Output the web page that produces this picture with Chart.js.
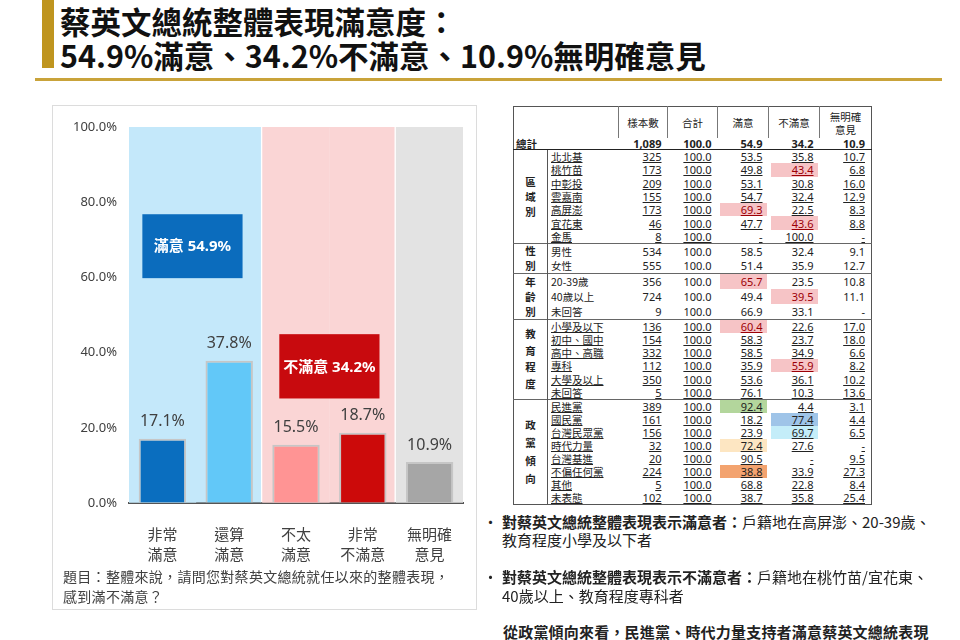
<!DOCTYPE html>
<html><head><meta charset="utf-8">
<script src="https://cdn.jsdelivr.net/npm/chart.js@4"></script>
<style>
html,body{margin:0;padding:0;background:#fff;}
body{width:960px;height:640px;position:relative;overflow:hidden;font-family:"Noto Sans","Noto Sans CJK TC",sans-serif;color:#222;}
.goldbar{position:absolute;left:42px;top:0;width:12px;height:68px;background:#bf951f;}
.title{position:absolute;left:60px;top:5px;font-family:"Noto Sans CJK TC",sans-serif;font-weight:700;font-size:30.5px;line-height:33.5px;color:#111;white-space:nowrap;}
.rule{position:absolute;left:35px;top:78px;width:907px;height:3px;background:#c9a33a;}
.panel{position:absolute;left:52px;top:105px;width:425px;height:505px;box-sizing:border-box;border:1px solid #dcdcdc;}
#chartwrap{position:absolute;left:52px;top:105px;width:425px;height:465px;}
.caption{position:absolute;left:63px;top:567px;font-family:"Noto Sans CJK TC",sans-serif;font-size:14px;line-height:19.5px;letter-spacing:0.3px;color:#404040;white-space:nowrap;}
.bullet{position:absolute;left:502px;font-family:"Noto Sans CJK TC",sans-serif;font-size:15px;line-height:18.5px;color:#222;white-space:nowrap;}
.bullet::before{content:"•";position:absolute;left:-19px;top:0;}
.bullet b{font-weight:700;}
.last{position:absolute;left:503px;top:623px;font-family:"Noto Sans CJK TC",sans-serif;font-size:15px;line-height:18.5px;font-weight:700;color:#222;white-space:nowrap;letter-spacing:0.2px;}
#tbl{position:absolute;left:513px;top:106px;border-collapse:collapse;table-layout:fixed;width:358px;font-family:"Noto Sans","Noto Sans CJK TC",sans-serif;font-size:11px;color:#222;border:1px solid #555;}
#tbl td,#tbl th{padding:0;line-height:11px;white-space:nowrap;overflow:hidden;}
#tbl th{font-weight:400;font-family:"Noto Sans CJK TC",sans-serif;font-size:10.5px;line-height:13px;height:31px;border-left:1px solid #777;text-align:center;vertical-align:middle;}
#tbl th.blank{border-left:none;}
#tbl td.num{text-align:right;padding-right:6px;}
#tbl td.lab{padding-left:3px;font-family:"Noto Sans CJK TC",sans-serif;font-size:10.5px;border-left:1px solid #555;}
#tbl td.grp{text-align:center;font-weight:700;font-family:"Noto Sans CJK TC",sans-serif;font-size:10.5px;vertical-align:middle;}
#tbl tr.total td{font-weight:700;border-bottom:1.5px solid #222;height:11px;}
#tbl tr.total td.tl{font-family:"Noto Sans CJK TC",sans-serif;font-size:10.5px;padding-left:2px;}
#tbl tr.sec td{border-top:1px solid #666;}
#tbl u{text-decoration:underline;text-underline-offset:1px;}
</style>
</head>
<body>
<div class="goldbar"></div>
<div class="title">蔡英文總統整體表現滿意度：<br>54.9%滿意、34.2%不滿意、10.9%無明確意見</div>
<div class="rule"></div>
<div class="panel"></div>
<div id="chartwrap"><canvas id="c" width="425" height="465"></canvas></div>
<div class="caption">題目：整體來說，請問您對蔡英文總統就任以來的整體表現，<br>感到滿不滿意？</div>
<table id="tbl"></table>
<div class="bullet" style="top:512.5px;"><b>對蔡英文總統整體表現表示滿意者：</b>戶籍地在高屏澎、20-39歲、<br>教育程度小學及以下者</div>
<div class="bullet" style="top:568px;"><b>對蔡英文總統整體表現表示不滿意者：</b>戶籍地在桃竹苗/宜花東、<br>40歲以上、教育程度專科者</div>
<div class="last">從政黨傾向來看，民進黨、時代力量支持者滿意蔡英文總統表現</div>

<script>
// ---------- chart data ----------
const categories = [['非常','滿意'],['還算','滿意'],['不太','滿意'],['非常','不滿意'],['無明確','意見']];
const values = [17.1, 37.8, 15.5, 18.7, 10.9];
const scaleMax = 100;
const tickStep = 20;
const summaryNames = ['滿意', '不滿意'];
const summaryValues = [54.9, 34.2];

// ---------- table data ----------
const tableHeaders = ['樣本數', '合計', '滿意', '不滿意', ['無明確', '意見']];
const overallLabel = '總計';
const overallRow = [1089, 100.0, 54.9, 34.2, 10.9];
const groupNames = ['區域別', '性別', '年齡別', '教育程度', '政黨傾向'];
const groupSizes = [7, 2, 3, 6, 8];
const rowLabels = ['北北基','桃竹苗','中彰投','雲嘉南','高屏澎','宜花東','金馬',
  '男性','女性',
  '20-39歲','40歲以上','未回答',
  '小學及以下','初中、國中','高中、高職','專科','大學及以上','未回答',
  '民進黨','國民黨','台灣民眾黨','時代力量','台灣基進','不偏任何黨','其他','未表態'];
const sampleSizes = [325,173,209,155,173,46,8, 534,555, 356,724,9, 136,154,332,112,350,5, 389,161,156,32,20,224,5,102];
const totalPct = [100,100,100,100,100,100,100, 100,100, 100,100,100, 100,100,100,100,100,100, 100,100,100,100,100,100,100,100];
const satisfiedPct = [53.5,49.8,53.1,54.7,69.3,47.7,null, 58.5,51.4, 65.7,49.4,66.9, 60.4,58.3,58.5,35.9,53.6,76.1, 92.4,18.2,23.9,72.4,90.5,38.8,68.8,38.7];
const dissatisfiedPct = [35.8,43.4,30.8,32.4,22.5,43.6,100.0, 32.4,35.9, 23.5,39.5,33.1, 22.6,23.7,34.9,55.9,36.1,10.3, 4.4,77.4,69.7,27.6,null,33.9,22.8,35.8];
const noOpinionPct = [10.7,6.8,16.0,12.9,8.3,8.8,null, 9.1,12.7, 10.8,11.1,null, 17.0,18.0,6.6,8.2,10.2,13.6, 3.1,4.4,6.5,null,9.5,27.3,8.4,25.4];

// ---------- styles ----------
const barColors = ['#0a6ebf', '#62c8f8', '#ff9494', '#cc0a0a', '#a6a6a6'];
const bandColors = ['#c4e8fa', '#c4e8fa', '#fad5d5', '#fad5d5', '#e3e3e3'];
const sectionRowHeights = [13.3, 14.5, 14.8, 13.1, 13.0];
const groupLineHeights = [15, 14.5, 15, 16.5, 18];
const underlineGroups = [true, false, false, true, true];
const pink = {bg:'#f6c4c6', fg:'#9c0006'};
const highlights = [
  [1,3,pink],[4,2,pink],[5,3,pink],[9,2,pink],[10,3,pink],[12,2,pink],[15,3,pink],
  [18,2,{bg:'#b3d69c',fg:'#222'}],[19,3,{bg:'#9fc4e8',fg:'#222'}],[20,3,{bg:'#c4edf9',fg:'#222'}],
  [21,2,{bg:'#fde6c2',fg:'#222'}],[23,2,{bg:'#f3a36f',fg:'#222'}]
];

// ---------- build table ----------
(function buildTable(){
  const fmtPct = v => v === null ? '-' : v.toFixed(1);
  const fmtN = v => v.toLocaleString('en-US');
  let h = '<colgroup><col style="width:34px"><col style="width:71px"><col style="width:49px"><col style="width:50px"><col style="width:51px"><col style="width:51px"><col style="width:52px"></colgroup>';
  h += '<tr><th class="blank" colspan="2"></th>' + tableHeaders.map(t => '<th>' + (Array.isArray(t) ? t.join('<br>') : t) + '</th>').join('') + '</tr>';
  h += '<tr class="total"><td class="tl" colspan="2">' + overallLabel + '</td>' +
       overallRow.map((v,i) => '<td class="num">' + (i === 0 ? fmtN(v) : fmtPct(v)) + '</td>').join('') + '</tr>';
  let r = 0;
  groupSizes.forEach((size, g) => {
    const ul = underlineGroups[g];
    const wrap = s => ul ? '<u>' + s + '</u>' : s;
    for (let k = 0; k < size; k++, r++) {
      const cls = (g > 0 && k === 0) ? ' class="sec"' : '';
      let row = '<tr' + cls + '>';
      if (k === 0) {
        row += '<td class="grp" rowspan="' + size + '" style="line-height:' + groupLineHeights[g] + 'px">' + groupNames[g].split('').join('<br>') + '</td>';
      }
      row += '<td class="lab" style="height:' + sectionRowHeights[g] + 'px">' + wrap(rowLabels[r]) + '</td>';
      const cells = [fmtN(sampleSizes[r]), fmtPct(totalPct[r]), fmtPct(satisfiedPct[r]), fmtPct(dissatisfiedPct[r]), fmtPct(noOpinionPct[r])];
      cells.forEach((c, ci) => {
        const hl = highlights.find(x => x[0] === r && x[1] === ci);
        const st = hl ? ' style="background:' + hl[2].bg + ';color:' + hl[2].fg + ';box-shadow:inset 2px 0 #fff, inset -2px 0 #fff"' : '';
        row += '<td class="num"' + st + '>' + wrap(c) + '</td>';
      });
      row += '</tr>';
      h += row;
    }
  });
  document.getElementById('tbl').innerHTML = h;
})();

// ---------- chart ----------
const summaryBoxPlugin = {
  id: 'summaryBoxes',
  afterDatasetsDraw(chart, args, opts) {
    const {ctx, scales: {x, y}} = chart;
    ctx.save();
    opts.boxes.forEach((b, i) => {
      const l = x.getPixelForValue(b.center - b.half);
      const r = x.getPixelForValue(b.center + b.half);
      const t = y.getPixelForValue(b.top);
      const bt = y.getPixelForValue(b.bottom);
      ctx.fillStyle = b.color;
      ctx.fillRect(l, t, r - l, bt - t);
      ctx.fillStyle = '#fff';
      ctx.font = '700 15px "Noto Sans", "Noto Sans CJK TC", sans-serif';
      ctx.textAlign = 'center';
      ctx.textBaseline = 'middle';
      ctx.fillText(summaryNames[i] + ' ' + summaryValues[i].toFixed(1) + '%', (l + r) / 2, (t + bt) / 2 + 1);
    });
    ctx.restore();
  }
};
const valueLabelPlugin = {
  id: 'valueLabels',
  afterDatasetsDraw(chart) {
    const {ctx} = chart;
    const meta = chart.getDatasetMeta(1);
    ctx.save();
    ctx.fillStyle = '#404040';
    ctx.font = '16px "Noto Sans", "Noto Sans CJK TC", sans-serif';
    ctx.textAlign = 'center';
    ctx.textBaseline = 'middle';
    meta.data.forEach((bar, i) => {
      ctx.fillText(values[i].toFixed(1) + '%', bar.x, bar.y - 17);
    });
    ctx.restore();
  }
};

Chart.defaults.font.family = '"Noto Sans", "Noto Sans CJK TC", sans-serif';
new Chart(document.getElementById('c'), {
  type: 'bar',
  data: {
    labels: categories,
    datasets: [
      {
        label: 'band',
        data: categories.map(() => scaleMax),
        backgroundColor: bandColors,
        borderColor: '#ffffff',
        borderWidth: c => (c.dataIndex === 1 || c.dataIndex === 3) ? {left: 0, top: 0, bottom: 0, right: 2} : 0,
        borderSkipped: false,
        barPercentage: 1,
        categoryPercentage: 1,
        grouped: false,
        order: 2
      },
      {
        label: '整體表現滿意度',
        data: values,
        backgroundColor: barColors,
        borderColor: '#c6c6c6',
        borderWidth: 2,
        barPercentage: 0.71,
        categoryPercentage: 1,
        grouped: false,
        order: 1
      }
    ]
  },
  options: {
    responsive: false,
    animation: false,
    devicePixelRatio: 1,
    layout: {padding: {top: 22, right: 14, left: 0, bottom: 0}},
    plugins: {
      legend: {display: false},
      tooltip: {enabled: false},
      summaryBoxes: {
        boxes: [
          {center: 0.45, half: 0.75, top: 76.8, bottom: 59.8, color: '#0b6cbd'},
          {center: 2.5, half: 0.75, top: 44.9, bottom: 27.8, color: '#c80a0e'}
        ]
      }
    },
    scales: {
      x: {
        grid: {display: false},
        border: {display: true, color: '#555', width: 2},
        ticks: {font: {size: 15, lineHeight: 1.34}, color: '#404040', padding: 15, maxRotation: 0, autoSkip: false},
        afterFit(s) { s.height = 67; }
      },
      y: {
        min: 0, max: scaleMax,
        ticks: {stepSize: tickStep, callback: v => v.toFixed(1) + '%', font: {size: 13}, color: '#404040', padding: 12},
        grid: {color: 'rgba(0,0,0,0.06)', drawTicks: false},
        border: {display: false},
        afterFit(s) { s.width = 77; }
      }
    }
  },
  plugins: [summaryBoxPlugin, valueLabelPlugin]
});
</script>
</body></html>
